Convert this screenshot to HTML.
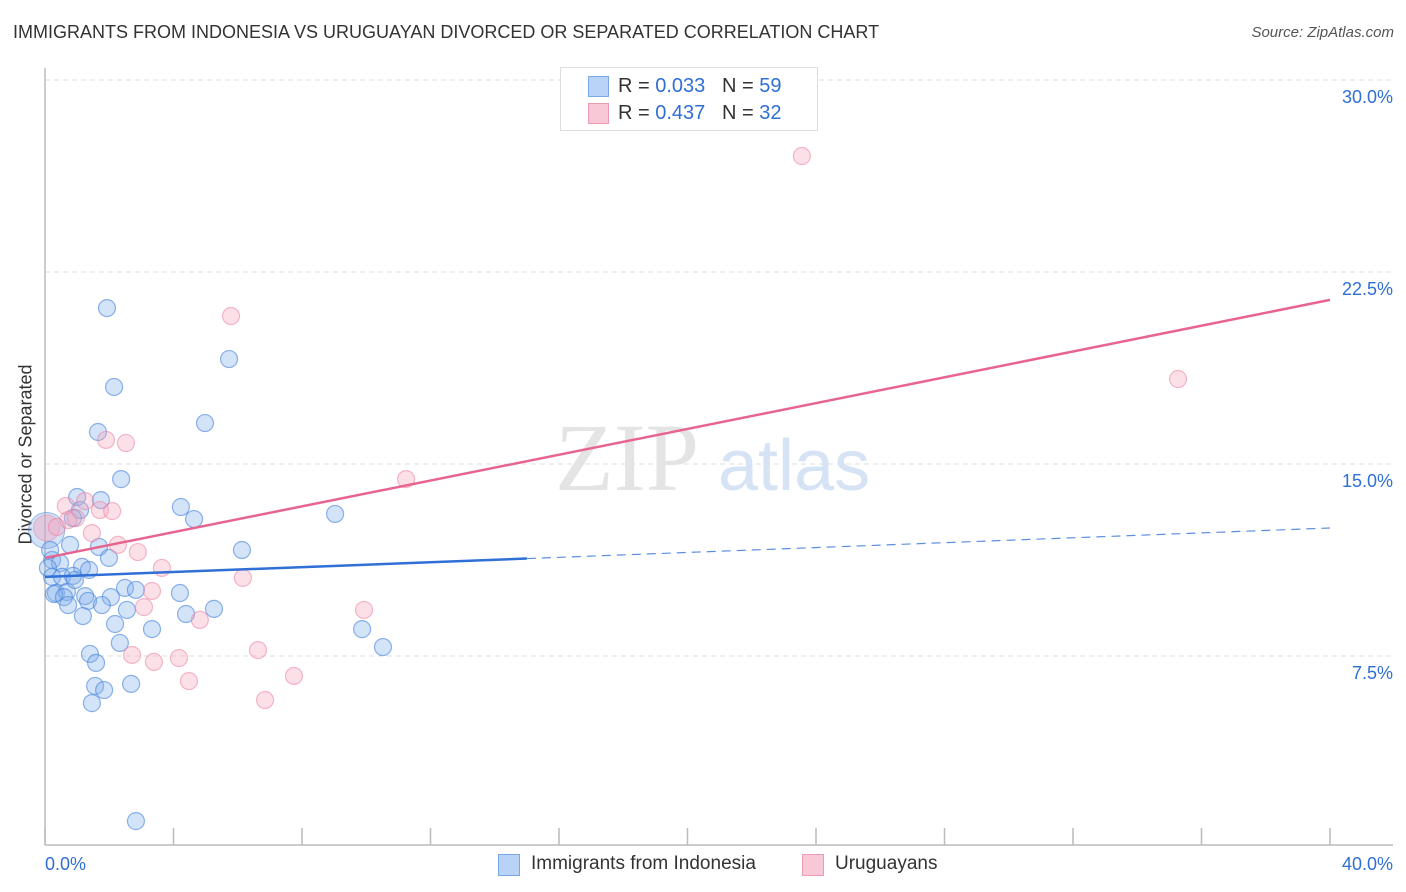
<!DOCTYPE html>
<html><head><meta charset="utf-8">
<style>
body{margin:0;background:#fff;font-family:"Liberation Sans",sans-serif;}
#wrap{position:relative;width:1406px;height:892px;overflow:hidden;}
.t{position:absolute;white-space:nowrap;}
</style></head>
<body>
<div id="wrap">
<div class="t" style="left:13px;top:22px;font-size:18px;color:#333;">IMMIGRANTS FROM INDONESIA VS URUGUAYAN DIVORCED OR SEPARATED CORRELATION CHART</div>
<div class="t" style="right:12px;top:24px;font-size:15px;color:#555;font-style:italic;">Source: ZipAtlas.com</div>
<div class="t" style="left:-64px;top:444px;font-size:18px;color:#333;transform:rotate(-90deg);">Divorced or Separated</div>
<svg id="chart" width="1406" height="892" style="position:absolute;left:0;top:0;"></svg>
<div style="position:absolute;left:560px;top:67px;width:256px;height:62px;border:1px solid #ddd;background:#fff;font-size:20px;">
 <div style="position:absolute;left:27px;top:8px;width:19px;height:19px;background:#b8d3f5;border:1px solid #7aa7e6;"></div>
 <div class="t" style="left:57px;top:7px;color:#333;">R = <span style="color:#2f6fd6">0.033</span>&nbsp;&nbsp;&nbsp;N = <span style="color:#2f6fd6">59</span></div>
 <div style="position:absolute;left:27px;top:35px;width:19px;height:19px;background:#f9c8d6;border:1px solid #ef9ab3;"></div>
 <div class="t" style="left:57px;top:34px;color:#333;">R = <span style="color:#2f6fd6">0.437</span>&nbsp;&nbsp;&nbsp;N = <span style="color:#2f6fd6">32</span></div>
</div>
<div style="position:absolute;left:498px;top:852px;font-size:19px;color:#333;">
 <div style="position:absolute;left:0;top:2px;width:20px;height:20px;background:#b8d3f5;border:1px solid #7aa7e6;"></div>
 <div class="t" style="left:33px;top:1px;">Immigrants from Indonesia</div>
 <div style="position:absolute;left:304px;top:2px;width:20px;height:20px;background:#f9c8d6;border:1px solid #ef9ab3;"></div>
 <div class="t" style="left:337px;top:1px;">Uruguayans</div>
</div>
</div>
<script>
const xTicks=[0,40];
const yTicks=[7.5,15.0,22.5,30.0];
const blueX=[1.93,2.15,5.73,4.98,1.65,2.37,1.00,1.74,4.23,4.64,1.09,0.87,9.03,0.78,1.68,6.13,1.99,0.22,0.47,0.09,1.15,1.37,0.22,0.53,0.87,2.49,2.83,0.34,0.68,4.20,2.05,1.25,0.28,0.59,1.34,0.72,1.77,2.55,5.26,4.39,1.18,2.18,3.33,9.87,2.33,10.52,1.40,1.59,1.56,2.68,1.84,1.46,2.83,0.16,0.93];
const blueY=[21.09,18.01,19.10,16.60,16.25,14.41,13.71,13.59,13.32,12.85,13.20,12.89,13.05,11.84,11.76,11.64,11.33,11.25,11.13,10.94,10.98,10.86,10.59,10.59,10.63,10.16,10.08,9.96,10.0,9.96,9.80,9.84,9.92,9.80,9.65,9.49,9.49,9.30,9.34,9.14,9.06,8.75,8.55,8.55,8.01,7.85,7.58,7.23,6.33,6.41,6.17,5.66,1.05,11.64,10.47];
const pinkX=[23.56,5.79,35.27,1.90,2.52,11.24,0.65,1.25,1.71,2.09,0.96,0.37,1.46,2.27,2.89,3.64,6.16,3.33,3.08,9.93,4.82,2.71,3.39,4.17,6.63,7.75,4.48,6.85,0.72];
const pinkY=[27.03,20.78,18.32,15.94,15.82,14.41,13.36,13.55,13.20,13.16,12.89,12.54,12.30,11.84,11.56,10.94,10.55,10.04,9.41,9.30,8.91,7.54,7.27,7.42,7.73,6.72,6.52,5.78,12.81];
const blueTrend=[10.59,12.5];
const pinkTrend=[11.33,21.41];
const blueSolidEnd=15;

const X0=45,X1=1330,YB=848,PX=25.6;
const sx=v=>X0+(v/40)*(X1-X0);
const sy=v=>YB-v*PX;
const svg=document.getElementById('chart');
const NS='http://www.w3.org/2000/svg';
function mk(tag,attrs){const e=document.createElementNS(NS,tag);for(const k in attrs)e.setAttribute(k,attrs[k]);svg.appendChild(e);return e;}

// grid
yTicks.forEach(v=>{
 const g=mk('line',{x1:X0,x2:1393,y1:sy(v),y2:sy(v),stroke:'#ddd','stroke-dasharray':'5,4'});
 
 
 const t=mk('text',{x:1393,y:sy(v)+23,'text-anchor':'end','font-size':18,fill:'#2f6fd6','font-family':'Liberation Sans, sans-serif'});
 t.textContent=v.toFixed(1)+'%';
 
 
});
// axes
const ya=mk('line',{x1:X0,x2:X0,y1:68,y2:845,stroke:'#bbb','stroke-width':1.5});


const xa=mk('line',{x1:X0,x2:1393,y1:845,y2:845,stroke:'#bbb','stroke-width':1.5});


for(let k=0;k<=10;k++){
 const tk=mk('line',{x1:sx(k*4),x2:sx(k*4),y1:828,y2:845,stroke:'#bbb','stroke-width':1.5});
 
 
}
xTicks.forEach((v,i)=>{
 const t=mk('text',{x:i==0?45:1393,y:870,'text-anchor':i==0?'start':'end','font-size':18,fill:'#2f6fd6','font-family':'Liberation Sans, sans-serif'});
 t.textContent=v.toFixed(1)+'%';
 
 
});
// watermark
const wm=mk('text',{x:555,y:490,'font-size':96,fill:'#e4e4e4','font-family':'Liberation Serif, serif'});
wm.textContent='ZIP';


const wm2=mk('text',{x:718,y:490,'font-size':72,fill:'#d6e3f5','font-family':'Liberation Sans, sans-serif'});
wm2.textContent='atlas';



// big circles
const bb=mk('circle',{cx:sx(0.05),cy:sy(12.4),r:18,fill:'rgba(130,175,235,0.35)',stroke:'rgba(70,130,220,0.5)'});


const pb=mk('circle',{cx:sx(0.05),cy:sy(12.5),r:13,fill:'rgba(245,160,185,0.4)',stroke:'rgba(235,130,160,0.5)'});



blueX.forEach((x,i)=>{
 const c=mk('circle',{cx:sx(x),cy:sy(blueY[i]),r:8.5,fill:'rgba(130,175,235,0.35)',stroke:'rgba(70,130,220,0.6)','stroke-width':1.2});
 
 
});
pinkX.forEach((x,i)=>{
 const c=mk('circle',{cx:sx(x),cy:sy(pinkY[i]),r:8.5,fill:'rgba(245,165,190,0.35)',stroke:'rgba(235,130,160,0.55)','stroke-width':1.2});
 
 
});
// trend lines
const bAt=x=>blueTrend[0]+(blueTrend[1]-blueTrend[0])*x/40;
const l1=mk('line',{x1:sx(0),y1:sy(bAt(0)),x2:sx(blueSolidEnd),y2:sy(bAt(blueSolidEnd)),stroke:'#2f6fd6','stroke-width':2.5});


const l2=mk('line',{x1:sx(blueSolidEnd),y1:sy(bAt(blueSolidEnd)),x2:sx(40),y2:sy(bAt(40)),stroke:'#5b8fe0','stroke-width':1.2,'stroke-dasharray':'9,6'});


const l3=mk('line',{x1:sx(0),y1:sy(pinkTrend[0]),x2:sx(40),y2:sy(pinkTrend[1]),stroke:'#e8648f','stroke-width':2.5});


</script>
</body></html>
